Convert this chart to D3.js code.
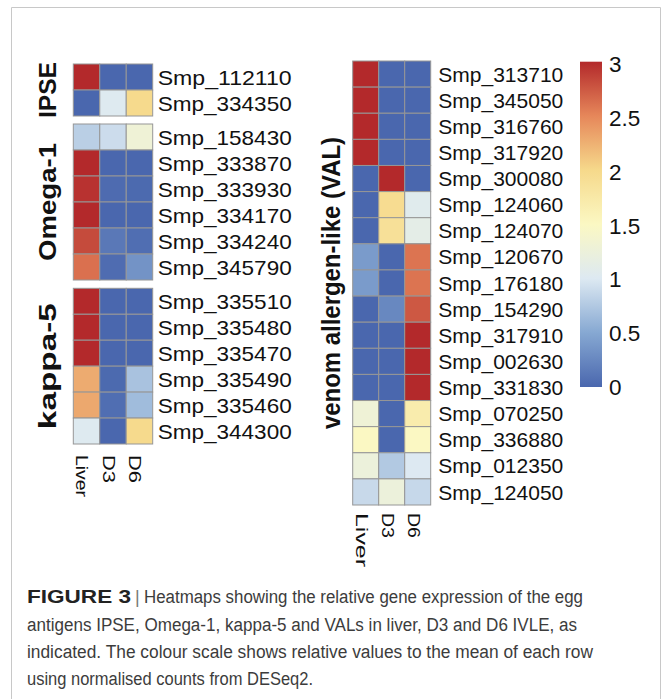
<!DOCTYPE html>
<html>
<head>
<meta charset="utf-8">
<script src="https://cdn.jsdelivr.net/npm/d3@7"></script>
<style>
  html, body { margin: 0; padding: 0; background: #fff; }
  svg { display: block; }
  text { font-family: "Liberation Sans", Arial, Helvetica, sans-serif; }
</style>
</head>
<body>
<script>
// ---------------- DATA ----------------
const conditions = ["Liver", "D3", "D6"];

const ipseGenes = ["Smp_112110", "Smp_334350"];
const ipseValues = [
  [3.0, 0.0, 0.0],
  [0.0, 1.02, 1.98]
];

const omegaGenes = ["Smp_158430", "Smp_333870", "Smp_333930", "Smp_334170", "Smp_334240", "Smp_345790"];
const omegaValues = [
  [0.8, 0.9, 1.3],
  [3.0, 0.0, 0.0],
  [2.95, 0.03, 0.02],
  [3.0, 0.0, 0.0],
  [2.82, 0.13, 0.05],
  [2.62, 0.04, 0.34]
];

const kappaGenes = ["Smp_335510", "Smp_335480", "Smp_335470", "Smp_335490", "Smp_335460", "Smp_344300"];
const kappaValues = [
  [3.0, 0.0, 0.0],
  [3.0, 0.0, 0.0],
  [3.0, 0.0, 0.0],
  [2.28, 0.02, 0.70],
  [2.30, 0.05, 0.65],
  [1.02, 0.0, 1.98]
];

const valGenes = ["Smp_313710", "Smp_345050", "Smp_316760", "Smp_317920", "Smp_300080", "Smp_124060",
  "Smp_124070", "Smp_120670", "Smp_176180", "Smp_154290", "Smp_317910", "Smp_002630", "Smp_331830",
  "Smp_070250", "Smp_336880", "Smp_012350", "Smp_124050"];
const valValues = [
  [3.0, 0.0, 0.0],
  [3.0, 0.0, 0.0],
  [3.0, 0.0, 0.0],
  [3.0, 0.0, 0.0],
  [0.0, 3.0, 0.0],
  [0.0, 1.95, 1.05],
  [0.0, 1.88, 1.12],
  [0.40, 0.0, 2.60],
  [0.40, 0.0, 2.60],
  [0.0, 0.25, 2.75],
  [0.0, 0.0, 3.0],
  [0.0, 0.0, 3.0],
  [0.0, 0.0, 3.0],
  [1.30, 0.0, 1.70],
  [1.50, 0.0, 1.50],
  [1.25, 0.75, 1.00],
  [0.88, 1.25, 0.87]
];

const legendTicks = [0, 0.5, 1, 1.5, 2, 2.5, 3];
const paletteStops = [0, 0.5, 1, 1.5, 2, 2.5, 3];
const paletteColors = ["#4a67ae", "#86a8d2", "#dde9f2", "#fbf8c3", "#f6d98b", "#e6875a", "#b3292b"];

const captionLines = [
  "antigens IPSE, Omega-1, kappa-5 and VALs in liver, D3 and D6 IVLE, as",
  "indicated. The colour scale shows relative values to the mean of each row",
  "using normalised counts from DESeq2."
];

// ---------------- DRAW ----------------
const W = 664, H = 699;
const svg = d3.select("body").append("svg").attr("width", W).attr("height", H);

svg.append("rect").attr("x", 0).attr("y", 0).attr("width", W).attr("height", H).attr("fill", "#fff");
// figure frame
svg.append("path")
  .attr("d", `M11.5,${H + 2} V7.5 H660.5 V${H + 2}`)
  .attr("fill", "none").attr("stroke", "#c8c8c8").attr("stroke-width", 1);

const color = d3.scaleLinear().domain(paletteStops).range(paletteColors).interpolate(d3.interpolateRgb).clamp(true);

function heatmap(genes, values, xRange, yRange, labelOpts) {
  const x = d3.scaleBand().domain(conditions).range(xRange);
  const y = d3.scaleBand().domain(genes).range(yRange);
  const g = svg.append("g");
  const cells = [];
  genes.forEach((gene, i) => conditions.forEach((c, j) => cells.push({ gene, c, v: values[i][j] })));
  g.selectAll("rect.cell").data(cells).join("rect")
    .attr("class", "cell")
    .attr("x", d => x(d.c)).attr("y", d => y(d.gene))
    .attr("width", x.bandwidth()).attr("height", y.bandwidth())
    .attr("fill", d => color(d.v))
    .attr("stroke", "#969696").attr("stroke-width", 1);
  g.selectAll("text.gene").data(genes).join("text")
    .attr("class", "gene")
    .attr("x", xRange[1] + labelOpts.gap)
    .attr("y", d => y(d) + y.bandwidth() / 2 + labelOpts.fs * 0.36)
    .attr("font-size", labelOpts.fs)
    .attr("textLength", labelOpts.len).attr("lengthAdjust", "spacingAndGlyphs")
    .attr("fill", "#111")
    .text(d => d);
  return { x, y };
}

function columnLabels(x, yStart, fs, lens, off) {
  svg.append("g").selectAll("text").data(conditions).join("text")
    .attr("transform", d => `translate(${x(d) + x.bandwidth() / 2 - off},${yStart}) rotate(90)`)
    .attr("font-size", fs)
    .attr("textLength", (d, i) => lens[i]).attr("lengthAdjust", "spacingAndGlyphs")
    .attr("fill", "#111")
    .text(d => d);
}

function blockTitle(text, xBase, yRange, fs, len) {
  const yc = (yRange[0] + yRange[1]) / 2;
  svg.append("text")
    .attr("transform", `translate(${xBase},${yc}) rotate(-90)`)
    .attr("text-anchor", "middle")
    .attr("font-size", fs).attr("font-weight", "bold")
    .attr("textLength", len).attr("lengthAdjust", "spacingAndGlyphs")
    .attr("fill", "#111")
    .text(text);
}

const leftX = [73.3, 152.7];
const leftLab = { gap: 5, fs: 21, len: 134 };
const ipseY = [64, 116], omegaY = [124, 280], kappaY = [288.3, 444];
heatmap(ipseGenes, ipseValues, leftX, ipseY, leftLab);
heatmap(omegaGenes, omegaValues, leftX, omegaY, leftLab);
const kap = heatmap(kappaGenes, kappaValues, leftX, kappaY, leftLab);
columnLabels(kap.x, 455, 16, [42, 28, 28], 10.5);

const rightX = [352.7, 430.7];
const valY = [61, 505];
const val = heatmap(valGenes, valValues, rightX, valY, { gap: 7.6, fs: 21, len: 125 });
columnLabels(val.x, 513, 16, [54, 25, 25], 9.5);

blockTitle("IPSE", 56, ipseY, 24, 56);
blockTitle("Omega-1", 56, omegaY, 24, 118);
blockTitle("kappa-5", 56, kappaY, 24, 126);
blockTitle("venom allergen-like  (VAL)", 339.5, valY, 25, 292);

// ---------------- LEGEND ----------------
const ly = d3.scaleLinear().domain([0, 3]).range([387, 64]);
const defs = svg.append("defs");
const grad = defs.append("linearGradient").attr("id", "lg").attr("x1", 0).attr("y1", 1).attr("x2", 0).attr("y2", 0);
grad.selectAll("stop").data(paletteStops).join("stop")
  .attr("offset", d => d / 3).attr("stop-color", d => color(d));
svg.append("rect")
  .attr("x", 580).attr("y", ly(3) - 2.3).attr("width", 22).attr("height", ly(0) - ly(3) + 2.3)
  .attr("fill", "url(#lg)");
svg.append("g").selectAll("text").data(legendTicks).join("text")
  .attr("x", 609).attr("y", d => ly(d) + 8)
  .attr("font-size", 22.5).attr("fill", "#111")
  .text(d => d3.format("")(d));

// ---------------- CAPTION ----------------
const capFont = "'Liberation Sans Narrow', 'Liberation Sans', Arial, sans-serif";
const cap = svg.append("g").attr("fill", "#3c3c3c");
cap.append("text").attr("x", 27).attr("y", 603).attr("font-size", 18).attr("font-weight", "bold")
  .attr("font-family", capFont).attr("fill", "#222")
  .attr("textLength", 104).attr("lengthAdjust", "spacingAndGlyphs").text("FIGURE 3");
cap.append("text").attr("x", 135).attr("y", 603).attr("font-size", 18)
  .attr("font-family", capFont).attr("fill", "#777").text("|");
cap.append("text").attr("x", 144).attr("y", 603).attr("font-size", 18)
  .attr("font-family", capFont)
  .attr("textLength", 439).attr("lengthAdjust", "spacingAndGlyphs")
  .text("Heatmaps showing the relative gene expression of the egg");
const capLens = [550, 566, 286];
cap.selectAll("text.cl").data(captionLines).join("text")
  .attr("class", "cl")
  .attr("x", 27).attr("y", (d, i) => 631 + i * 27.2)
  .attr("font-size", 18).attr("font-family", capFont)
  .attr("textLength", (d, i) => capLens[i]).attr("lengthAdjust", "spacingAndGlyphs")
  .text(d => d);
</script>
</body>
</html>
